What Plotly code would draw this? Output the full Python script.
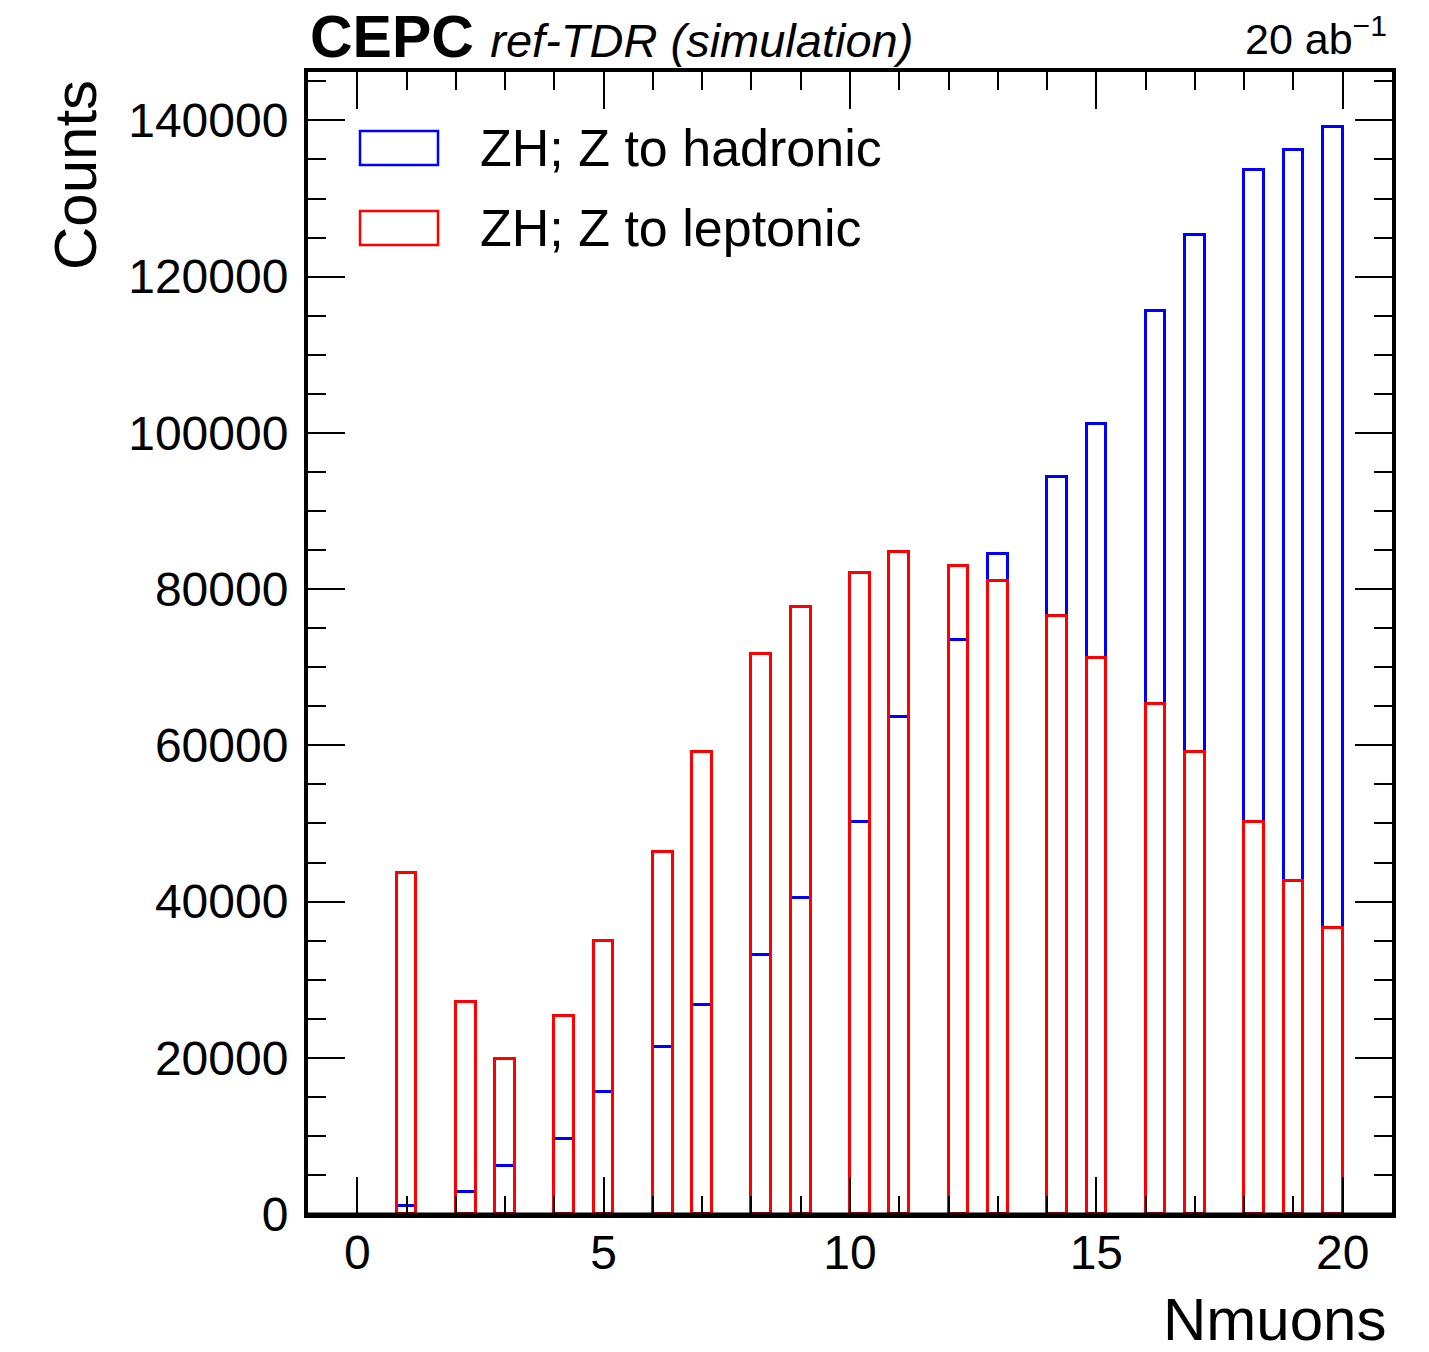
import math
import plotly.graph_objects as go

# ---- data ----
nmuons = list(range(21))
hadronic = [0, 1060, 2800, 6100, 9600, 15600, 21400, 26700, 33100, 40400, 50200,
            63600, 73500, 84500, 94300, 101100, 115600, 125300, 133700, 136200, 139100]
leptonic = [0, 43700, 27200, 19900, 25400, 35000, 46300, 59200, 71700, 77700, 82100,
            84800, 83000, 81100, 76600, 71200, 65300, 59200, 50200, 42600, 36600]
series_names = ["ZH; Z to hadronic", "ZH; Z to leptonic"]
x_ticks = [0, 5, 10, 15, 20]
y_ticks = [0, 20000, 40000, 60000, 80000, 100000, 120000, 140000]

# histogram binning: 50 bins of width 0.4 on [0, 20]
BIN_W = 0.4
NBINS = 50


def bin_center(n):
    idx = min(int(math.floor(n / BIN_W + 1e-9)), NBINS - 1)
    return idx * BIN_W + BIN_W / 2


# page body has an 8px margin; size the figure so the plot frame lands where intended
OFF = 8
WIN_W, WIN_H = 1429, 1352
PL, PR, PT, PB = 308, 1392, 72, 1214   # plot frame in window pixels
W, H = WIN_W - OFF, WIN_H - OFF
L, T = PL - OFF, PT - OFF
R, B = W - (PR - OFF), H - (PB - OFF)
FONT = "Liberation Sans, Arial, Helvetica, sans-serif"


def px(xp):
    return (xp - PL) / (PR - PL)


def py(yp):
    return (PB - yp) / (PB - PT)


fig = go.Figure()
for vals, col, name in [(hadronic, "#0000ff", series_names[0]),
                        (leptonic, "#ff0000", series_names[1])]:
    xs = [bin_center(n) for n, v in zip(nmuons, vals) if v > 0]
    ys = [v for v in vals if v > 0]
    fig.add_trace(go.Bar(
        x=xs, y=ys, width=BIN_W, name=name,
        marker=dict(color="rgba(0,0,0,0)", line=dict(color=col, width=3)),
        showlegend=False,
    ))

axis_common = dict(
    showline=True, linecolor="black", linewidth=4, mirror="allticks",
    ticks="inside", tickcolor="black", tickwidth=2,
    showgrid=False, zeroline=False,
    tickfont=dict(family=FONT, size=48, color="black"),
)

fig.update_xaxes(range=[-1, 21], tickvals=x_ticks, ticklen=37,
                 minor=dict(dtick=1, ticklen=18, tickwidth=2, ticks="inside", tickcolor="black"),
                 ticklabelstandoff=-7, **axis_common)
fig.update_yaxes(range=[0, 146200], tickvals=y_ticks, tickformat="d", ticklen=37,
                 minor=dict(dtick=5000, ticklen=18, tickwidth=2, ticks="inside", tickcolor="black"),
                 ticklabelstandoff=6, **axis_common)

annotations = [
    dict(text="<b>CEPC</b> <span style='font-size:47px'><i>ref-TDR (simulation)</i></span>",
         xref="paper", yref="paper", x=0, y=1, xanchor="left", yanchor="bottom",
         yshift=0, showarrow=False, font=dict(family=FONT, size=59, color="black")),
    dict(text="20 ab<sup>\u22121</sup>",
         xref="paper", yref="paper", x=px(1389), y=1, xanchor="right", yanchor="bottom",
         yshift=7, showarrow=False, font=dict(family=FONT, size=43, color="black")),
    dict(text="Counts", xref="paper", yref="paper", x=px(75), y=py(78),
         xanchor="center", yanchor="top", textangle=-90, showarrow=False,
         font=dict(family=FONT, size=60, color="black")),
    dict(text="Nmuons", xref="paper", yref="paper", x=px(1388), y=py(1320),
         xanchor="right", yanchor="middle", showarrow=False,
         font=dict(family=FONT, size=60, color="black")),
]

shapes = [
    # keep the frame's bottom edge black over the bars' base outlines
    dict(type="line", xref="paper", yref="paper", x0=0, x1=1, y0=0, y1=0,
         line=dict(color="black", width=3), layer="above"),
]
legend_rows = [(148, "#0000ff", series_names[0]), (228, "#ff0000", series_names[1])]
for yc, col, name in legend_rows:
    shapes.append(dict(type="rect", xref="paper", yref="paper",
                       x0=px(360), x1=px(438), y0=py(yc + 17), y1=py(yc - 17),
                       line=dict(color=col, width=2.5), fillcolor="rgba(0,0,0,0)"))
    annotations.append(dict(text=name, xref="paper", yref="paper", x=px(478), y=py(yc),
                            xanchor="left", yanchor="middle", showarrow=False,
                            font=dict(family=FONT, size=52, color="black")))

fig.update_layout(
    width=W, height=H, margin=dict(l=L, r=R, t=T, b=B),
    paper_bgcolor="white", plot_bgcolor="white",
    barmode="overlay", bargap=0,
    annotations=annotations, shapes=shapes,
    font=dict(family=FONT, color="black"),
)

fig.write_html("out.html")
